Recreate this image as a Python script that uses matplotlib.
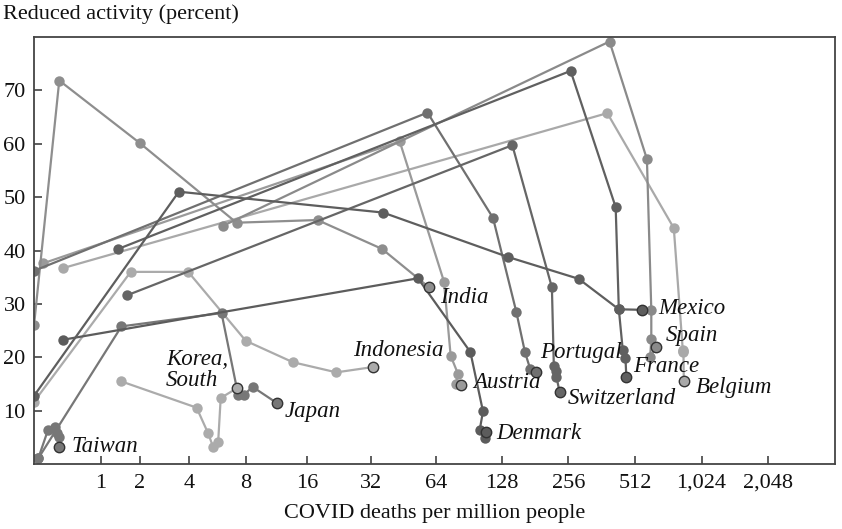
import numpy as np
import matplotlib.pyplot as plt

# COVID deaths per million people (x) and reduced activity in percent (y)
mexico_deaths = [0.0, 3.5, 36.5, 136, 285, 433, 553]
mexico_activity = [12.8, 51.0, 47.1, 38.8, 34.7, 29.0, 28.9]

france_deaths = [1.4, 262, 419, 433, 451, 464, 468]
france_activity = [40.3, 73.6, 48.1, 29.0, 21.4, 19.9, 16.4]

portugal_deaths = [0.0, 58.5, 116.5, 148.7, 162.7, 172, 182]
portugal_activity = [36.2, 65.8, 46.1, 28.5, 21.0, 17.8, 17.2]

switzerland_deaths = [1.62, 142.6, 215.6, 220, 224, 226, 233.6]
switzerland_activity = [31.6, 59.7, 33.1, 18.3, 17.5, 16.4, 13.5]

austria_deaths = [0.1, 43.6, 69.6, 74.7, 80.7, 78.8, 83.6]
austria_activity = [37.6, 60.4, 34.2, 20.3, 16.9, 15.0, 14.9]

spain_deaths = [6.1, 393, 580, 607, 607, 600, 639]
spain_activity = [44.6, 79.1, 57.1, 28.9, 23.4, 20.1, 21.9]

belgium_deaths = [0.35, 384, 767, 842, 845, 848, 851]
belgium_activity = [36.7, 65.7, 44.2, 21.4, 21.0, 21.2, 15.5]

india_deaths = [0.0, 0.30, 2.0, 7.19, 18.0, 36.1, 59.5]
india_activity = [26.0, 71.8, 60.1, 45.2, 45.7, 40.3, 33.1]

denmark_deaths = [0.35, 52.9, 91.9, 104.9, 101.3, 106.8, 108.7]
denmark_activity = [23.3, 34.8, 21.0, 9.9, 6.4, 4.9, 6.1]

japan_deaths = [0.045, 1.48, 6.01, 7.33, 7.86, 8.67, 11.41]
japan_activity = [1.1, 25.8, 28.3, 13.0, 13.0, 14.5, 11.5]

korea_deaths = [1.48, 4.41, 5.10, 5.43, 5.77, 5.95, 7.19]
korea_activity = [15.5, 10.6, 5.8, 3.2, 4.2, 12.4, 14.2]

indonesia_deaths = [0.0, 1.73, 3.96, 8.02, 13.7, 22.1, 32.8]
indonesia_activity = [11.7, 36.0, 36.0, 23.1, 19.1, 17.2, 18.2]

taiwan_deaths = [0.045, 0.156, 0.247, 0.27, 0.29, 0.29]
taiwan_activity = [1.1, 6.4, 7.0, 5.9, 5.2, 3.3]

xticks = [1, 2, 4, 8, 16, 32, 64, 128, 256, 512, 1024, 2048]
xticklabels = ['1', '2', '4', '8', '16', '32', '64', '128', '256', '512', '1,024', '2,048']
yticks = [10, 20, 30, 40, 50, 60, 70]

series = [
    ('Belgium', belgium_deaths, belgium_activity, '#a9a9a9', (8.9, -4.5), 'left'),
    ('Korea,\nSouth', korea_deaths, korea_activity, '#ababab', (-6, 13), 'right'),
    ('Indonesia', indonesia_deaths, indonesia_activity, '#ababab', (-14.4, 12.2), 'left'),
    ('Austria', austria_deaths, austria_activity, '#9a9a9a', (8.4, 1.4), 'left'),
    ('India', india_deaths, india_activity, '#8e8e8e', (7.7, -7), 'left'),
    ('Spain', spain_deaths, spain_activity, '#8a8a8a', (6.7, 8.1), 'left'),
    ('Taiwan', taiwan_deaths, taiwan_activity, '#777777', (9.4, 0), 'left'),
    ('Japan', japan_deaths, japan_activity, '#777777', (6, -6), 'left'),
    ('Portugal', portugal_deaths, portugal_activity, '#707070', (2.9, 14.2), 'left'),
    ('Switzerland', switzerland_deaths, switzerland_activity, '#666666', (6, -4.3), 'left'),
    ('France', france_deaths, france_activity, '#606060', (4.8, 7.2), 'left'),
    ('Denmark', denmark_deaths, denmark_activity, '#5c5c5c', (7.2, -1), 'left'),
    ('Mexico', mexico_deaths, mexico_activity, '#5e5e5e', (11.2, 0.7), 'left'),
]

plt.rcParams['font.family'] = ['Liberation Serif', 'DejaVu Serif']

fig = plt.figure(figsize=(8.42, 5.29), dpi=100)
ax = fig.add_axes([34 / 842, 1 - 464.3 / 529, 801 / 842, 427.6 / 529])

fwd = lambda x: np.log2(1 + np.asarray(x, dtype=float))
inv = lambda y: 2 ** np.asarray(y, dtype=float) - 1
ax.set_xscale('function', functions=(fwd, inv))
ax.set_xlim(0, 4095)
ax.set_ylim(0, 80)

for name, xs, ys, color, offset, ha in series:
    ax.plot(xs, ys, '-o', color=color, lw=1.6, ms=7.5, markeredgewidth=0, zorder=2)
    ax.plot(xs[-1], ys[-1], 'o', color=color, ms=7.5, markeredgecolor='#333333',
            markeredgewidth=1.0, zorder=3)
    ax.annotate(name, (xs[-1], ys[-1]), xytext=offset, textcoords='offset points',
                ha=ha, va='center', multialignment='left', fontsize=16.5,
                style='italic', color='#111111', linespacing=1.0, zorder=4)

ax.set_xticks(xticks)
ax.set_xticklabels(xticklabels)
ax.xaxis.set_minor_locator(plt.NullLocator())
ax.set_yticks(yticks)
ax.tick_params(direction='in', length=6, width=1.1, color='#333333',
               labelsize=16, labelcolor='#111111')
ax.tick_params(axis='x', pad=7)
ax.tick_params(axis='y', pad=6)
for sp in ax.spines.values():
    sp.set_color('#444444')
    sp.set_linewidth(1.3)

ax.set_xlabel('COVID deaths per million people', fontsize=16, color='#111111', labelpad=8)
fig.text(3 / 842, 1 - 14 / 529, 'Reduced activity (percent)', fontsize=16,
         color='#111111', ha='left', va='center')

fig.savefig('out.png', dpi=100)
